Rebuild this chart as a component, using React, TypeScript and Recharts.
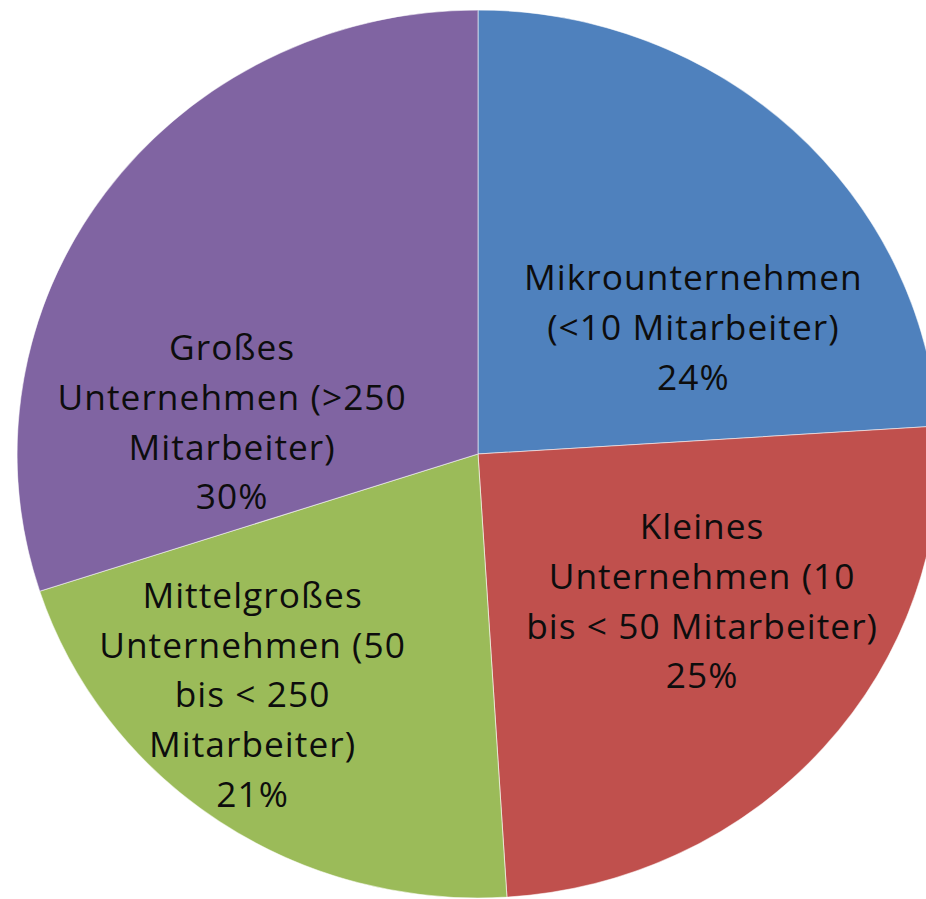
import React from "react";
import { PieChart, Pie, Cell } from "recharts";

const categories = [
  "Mikrounternehmen (<10 Mitarbeiter)",
  "Kleines Unternehmen (10 bis < 50 Mitarbeiter)",
  "Mittelgroßes Unternehmen (50 bis < 250 Mitarbeiter)",
  "Großes Unternehmen (>250 Mitarbeiter)",
];
const values = [24, 25, 21, 30];
const labelLines = [
  ["Mikrounternehmen", "(<10 Mitarbeiter)"],
  ["Kleines", "Unternehmen (10", "bis < 50 Mitarbeiter)"],
  ["Mittelgroßes", "Unternehmen (50", "bis < 250", "Mitarbeiter)"],
  ["Großes", "Unternehmen (>250", "Mitarbeiter)"],
];
const colors = ["#4F81BD", "#C0504D", "#9BBB59", "#8064A2"];

// label placement: angle (deg, counter-clockwise from 3 o'clock) and radius fraction
const labelAngles = [31.3, -34.35, -132.0, 172.5];
const labelRadii = [0.547, 0.589, 0.731, 0.538];

const data = categories.map((name, i) => ({ name, value: values[i] }));

const FONT_SIZE = 34;
const LINE_H = 49.7;
const CAP_H = FONT_SIZE * 0.714;

const renderLabel = (props: any) => {
  const { cx, cy, outerRadius, index } = props;
  const a = (labelAngles[index] * Math.PI) / 180;
  const r = outerRadius * labelRadii[index];
  const x = cx + r * Math.cos(a);
  const y = cy - r * Math.sin(a);
  const lines = [...labelLines[index], `${values[index]}%`];
  const n = lines.length;
  const firstBaseline = y - ((n - 1) * LINE_H) / 2 + CAP_H / 2;
  return (
    <text
      key={`lbl-${index}`}
      x={x}
      y={firstBaseline}
      textAnchor="middle"
      fill="#0d0d0d"
      fontFamily="'Open Sans', 'Noto Sans', sans-serif"
      fontSize={FONT_SIZE}
      letterSpacing={1}
    >
      {lines.map((ln, i) => (
        <tspan key={i} x={x} y={firstBaseline + i * LINE_H}>
          {ln}
        </tspan>
      ))}
    </text>
  );
};

export default function App() {
  return (
    <div
      style={{
        position: "absolute",
        left: 0,
        top: 0,
        width: 926,
        height: 899,
        overflow: "hidden",
        background: "#ffffff",
      }}
    >
      <div style={{ transform: "scaleX(1.038)", transformOrigin: "478px 454px" }}>
        <PieChart width={926} height={899} margin={{ top: 0, right: 0, bottom: 0, left: 0 }}>
          <Pie
            data={data}
            dataKey="value"
            nameKey="name"
            cx={478}
            cy={454}
            outerRadius={444}
            startAngle={90}
            endAngle={-270}
            label={renderLabel}
            labelLine={false}
            isAnimationActive={false}
          >
            {data.map((d, i) => (
              <Cell key={d.name} fill={colors[i]} stroke="rgba(255,255,255,0.55)" strokeWidth={1} />
            ))}
          </Pie>
        </PieChart>
      </div>
    </div>
  );
}
